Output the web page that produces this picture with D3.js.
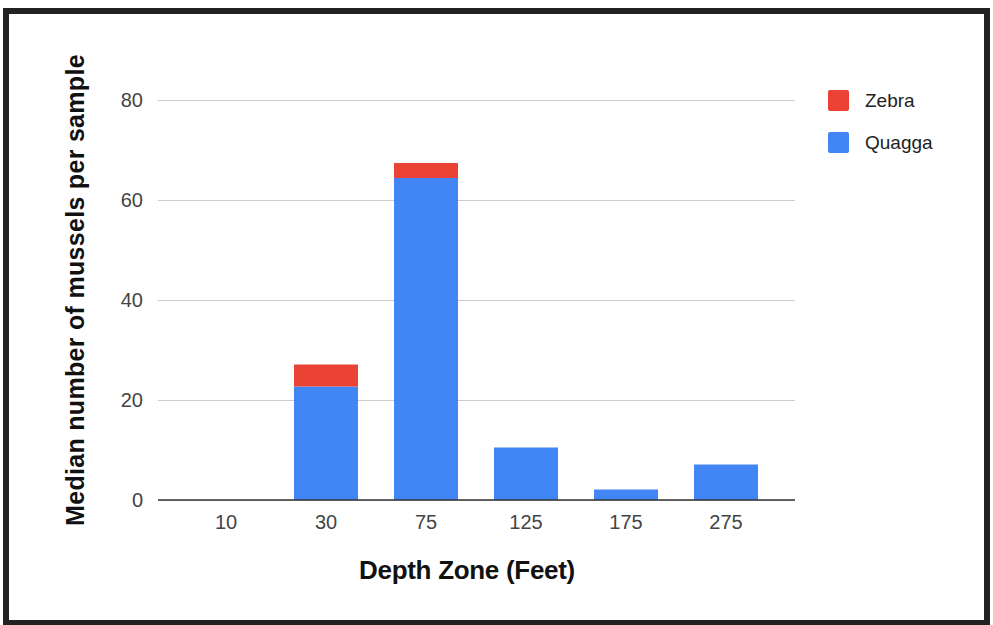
<!DOCTYPE html>
<html><head><meta charset="utf-8">
<script src="https://cdn.jsdelivr.net/npm/d3@7"></script>
<style>html,body{margin:0;padding:0;background:#fff;}svg{display:block;font-family:"Liberation Sans",Arial,sans-serif;}</style>
</head><body>
<svg id="c" width="993" height="625"></svg>
<script>
const categories = ["10","30","75","125","175","275"];
const quagga = [0, 22.7, 64.4, 10.5, 2.1, 7.1];
const zebra  = [0, 4.4, 3.0, 0, 0, 0];
const seriesNames = ["Zebra","Quagga"];
const seriesColors = ["#EA4335","#4285F4"];
const yTicks = [0,20,40,60,80];

const svg = d3.select("#c");
svg.append("rect").attr("x",0).attr("y",0).attr("width",993).attr("height",625).attr("fill","#fff");
svg.append("rect").attr("x",6).attr("y",11).attr("width",981).attr("height",612)
  .attr("fill","none").attr("stroke","#222").attr("stroke-width",6);

const x = d3.scaleBand().domain(categories).range([176,776]).paddingInner(0.36).paddingOuter(0.18);
const y = d3.scaleLinear().domain([0,80]).range([500,100]);
const gx0 = 158, gx1 = 795;

// gridlines
const gy = svg.append("g").attr("transform",`translate(${gx0},0)`)
  .call(d3.axisLeft(y).tickValues(yTicks).tickSize(-(gx1-gx0)).tickFormat(d3.format("d")));
gy.select(".domain").remove();
gy.selectAll(".tick line").attr("stroke","#cccccc").attr("stroke-width",1);
gy.selectAll(".tick text").attr("x",-15).attr("fill","#444").attr("font-size",20);

// data
const rows = categories.map((c,i)=>({cat:c, Quagga:quagga[i], Zebra:zebra[i]}));
const stack = d3.stack().keys(["Quagga","Zebra"])(rows);
const color = d3.scaleOrdinal().domain(seriesNames).range(seriesColors);
svg.append("g").selectAll("g").data(stack).join("g").attr("fill",d=>color(d.key))
  .selectAll("rect").data(d=>d.filter(p=>p[1]-p[0]>0)).join("rect")
  .attr("x",d=>x(d.data.cat)).attr("width",x.bandwidth())
  .attr("y",d=>y(d[1])).attr("height",d=>y(d[0])-y(d[1]));

// baseline
svg.append("line").attr("x1",gx0).attr("x2",gx1).attr("y1",y(0)).attr("y2",y(0))
  .attr("stroke","#333").attr("stroke-width",1.5);

// x axis labels
const ax = svg.append("g").attr("transform",`translate(0,${y(0)})`).call(d3.axisBottom(x).tickSize(0).tickPadding(15));
ax.select(".domain").remove();
ax.selectAll("text").attr("fill","#444").attr("font-size",20).attr("font-family","Liberation Sans, Arial, sans-serif");

// titles
svg.append("text").attr("x",467).attr("y",579).attr("text-anchor","middle")
  .attr("font-weight","bold").attr("font-size",26).attr("letter-spacing",-0.3).attr("fill","#111").text("Depth Zone (Feet)");
svg.append("text").attr("transform","translate(84,290) rotate(-90)").attr("text-anchor","middle")
  .attr("font-weight","bold").attr("font-size",25).attr("letter-spacing",0.3).attr("fill","#111").text("Median number of mussels per sample");

// legend
const lg = svg.append("g");
seriesNames.forEach((n,i)=>{
  const yy = 100 + i*42;
  lg.append("rect").attr("x",828).attr("y",yy-10).attr("width",21).attr("height",21).attr("rx",2).attr("fill",seriesColors[i]);
  lg.append("text").attr("x",865).attr("y",yy).attr("dy","0.35em").attr("font-size",19).attr("fill","#222").text(n);
});
</script>
</body></html>
